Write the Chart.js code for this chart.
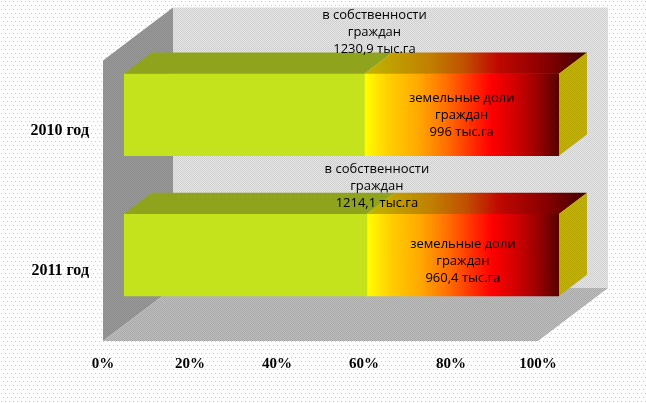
<!DOCTYPE html>
<html>
<head>
<meta charset="utf-8">
<script src="https://cdn.jsdelivr.net/npm/chart.js@4.4.1/dist/chart.umd.min.js"></script>
<style>
html,body{margin:0;padding:0;background:#fff;}
#wrap{width:646px;height:403px;position:relative;}
</style>
</head>
<body>
<div id="wrap"><canvas id="c"></canvas></div>
<script>
// ---- data ----
const categories = ['2010 год', '2011 год'];
const ownedValues = [1230.9, 1214.1];   // в собственности граждан, тыс.га
const shareValues = [996, 960.4];       // земельные доли граждан, тыс.га
const ownedLabelLines = ['в собственности', 'граждан'];
const shareLabelLines = ['земельные доли', 'граждан'];
const unitText = 'тыс.га';
const percentTicks = [0, 20, 40, 60, 80, 100];

// ---- derived (100% stacking) ----
const totals = ownedValues.map((v, i) => v + shareValues[i]);
const ownedPct = ownedValues.map((v, i) => v / totals[i] * 100);
const sharePct = shareValues.map((v, i) => v / totals[i] * 100);

// ---- style ----
const DEPTH = {x: 70, y: -53};
const FRONT = 0.3, BACK = 0.7;
const ownedLift = [41, 28];
const shareDrop = [1, 6];
const LABEL_FONT = '500 13px "Open Sans", "Liberation Sans", sans-serif';
const XTICK_FONT = {family: '"Liberation Serif", "Times New Roman", serif', size: 15, weight: 'bold'};
const YTICK_FONT = {family: '"Liberation Serif", "Times New Roman", serif', size: 16, weight: 'bold'};

function fmt(v) { return String(v).replace('.', ','); }

function makePattern(ctx, w, h, draw) {
  const c = document.createElement('canvas');
  c.width = w; c.height = h;
  draw(c.getContext('2d'));
  return ctx.createPattern(c, 'repeat');
}
function dither(ctx, a, b) {
  return makePattern(ctx, 2, 2, g => {
    g.fillStyle = a; g.fillRect(0, 0, 2, 2);
    g.fillStyle = b; g.fillRect(1, 0, 1, 1); g.fillRect(0, 1, 1, 1);
  });
}

function frontGradient(ctx, x0, x1) {
  const g = ctx.createLinearGradient(x0, 0, x1, 0);
  g.addColorStop(0, '#ffff00');
  g.addColorStop(0.12, '#ffd000');
  g.addColorStop(0.28, '#ffa800');
  g.addColorStop(0.42, '#ff7000');
  g.addColorStop(0.55, '#ff3000');
  g.addColorStop(0.65, '#ff0000');
  g.addColorStop(0.77, '#d40000');
  g.addColorStop(0.88, '#a00000');
  g.addColorStop(1, '#580000');
  return g;
}
function topGradient(ctx, x0, x1) {
  const g = ctx.createLinearGradient(x0, 0, x1, 0);
  g.addColorStop(0, '#c0b800');
  g.addColorStop(0.15, '#c09a00');
  g.addColorStop(0.3, '#c07e00');
  g.addColorStop(0.45, '#c05000');
  g.addColorStop(0.6, '#c00800');
  g.addColorStop(0.8, '#8c0000');
  g.addColorStop(1, '#400000');
  return g;
}

function poly(ctx, pts, fill) {
  ctx.beginPath();
  ctx.moveTo(pts[0][0], pts[0][1]);
  for (let i = 1; i < pts.length; i++) ctx.lineTo(pts[i][0], pts[i][1]);
  ctx.closePath();
  ctx.fillStyle = fill;
  ctx.fill();
}

const scene3d = {
  id: 'scene3d',
  beforeDraw(chart) {
    const {ctx, width, height} = chart;
    ctx.save();
    ctx.fillStyle = '#ffffff';
    ctx.fillRect(0, 0, width, height);
    ctx.fillStyle = makePattern(ctx, 4, 8, g => {
      g.fillStyle = '#c8c8c8';
      g.fillRect(1, 1, 1, 1);
      g.fillRect(3, 5, 1, 1);
    });
    ctx.fillRect(0, 0, width, height);
    ctx.restore();
  },
  beforeDatasetsDraw(chart) {
    const {ctx, chartArea: a} = chart;
    const xs = chart.scales.x;
    const ox = -FRONT * DEPTH.x, oy = -FRONT * DEPTH.y;
    const L = xs.getPixelForValue(0) + ox, R = xs.getPixelForValue(100) + ox;
    const T = a.top + oy, B = a.bottom + oy;
    const dx = DEPTH.x, dy = DEPTH.y;
    ctx.save();
    poly(ctx, [[L + dx, T + dy], [R + dx, T + dy], [R + dx, B + dy], [L + dx, B + dy]], dither(ctx, '#cfcfcf', '#e6e6e6'));
    poly(ctx, [[L, T], [L + dx, T + dy], [L + dx, B + dy], [L, B]], dither(ctx, '#8c8c8c', '#999999'));
    poly(ctx, [[L, B], [R, B], [R + dx, B + dy], [L + dx, B + dy]], dither(ctx, '#a8a8a8', '#bebebe'));
    ctx.restore();
  },
  afterDatasetsDraw(chart) {
    const {ctx} = chart;
    const bx = (BACK - FRONT) * DEPTH.x, by = (BACK - FRONT) * DEPTH.y;
    const m0 = chart.getDatasetMeta(0), m1 = chart.getDatasetMeta(1);
    ctx.save();
    categories.forEach((c, j) => {
      const e0 = m0.data[j], e1 = m1.data[j];
      const top = e0.y - e0.height / 2, bot = e0.y + e0.height / 2;
      poly(ctx, [[e0.base, top], [e0.x, top], [e0.x + bx, top + by], [e0.base + bx, top + by]], '#8fa31c');
      poly(ctx, [[e1.base, top], [e1.x, top], [e1.x + bx, top + by], [e1.base + bx, top + by]], topGradient(ctx, e1.base, e1.x + bx));
      poly(ctx, [[e1.x, top], [e1.x + bx, top + by], [e1.x + bx, bot + by], [e1.x, bot]], dither(ctx, '#b8a600', '#c4b400'));
    });
    ctx.fillStyle = '#000';
    ctx.font = LABEL_FONT;
    ctx.textAlign = 'center';
    ctx.textBaseline = 'middle';
    const LH = 17;
    categories.forEach((c, j) => {
      const e0 = m0.data[j], e1 = m1.data[j];
      const top = e0.y - e0.height / 2;
      const l1 = ownedLabelLines.concat([fmt(ownedValues[j]) + ' ' + unitText]);
      const cx1 = e0.x + 10, cy1 = top - ownedLift[j];
      l1.forEach((t, k) => ctx.fillText(t, cx1, cy1 + (k - 1) * LH));
      const l2 = shareLabelLines.concat([fmt(shareValues[j]) + ' ' + unitText]);
      const cx2 = (e1.base + e1.x) / 2, cy2 = e1.y + shareDrop[j];
      l2.forEach((t, k) => ctx.fillText(t, cx2, cy2 + (k - 1) * LH));
    });
    ctx.restore();
  }
};

const ctx = document.getElementById('c').getContext('2d');
new Chart(ctx, {
  type: 'bar',
  data: {
    labels: categories,
    datasets: [
      {label: 'в собственности граждан', data: ownedPct, backgroundColor: '#c4e31c', borderWidth: 0, barThickness: 82},
      {label: 'земельные доли граждан', data: sharePct, borderWidth: 0, barThickness: 82,
        backgroundColor: (c) => {
          const ch = c.chart;
          if (!ch.chartArea || c.dataIndex === undefined) return '#ff6000';
          const xs = ch.scales.x;
          return frontGradient(ch.ctx, xs.getPixelForValue(ownedPct[c.dataIndex]), xs.getPixelForValue(100));
        }}
    ]
  },
  options: {
    indexAxis: 'y',
    responsive: true,
    maintainAspectRatio: false,
    devicePixelRatio: 1,
    animation: false,
    layout: {padding: {left: 0, right: 87, top: 41, bottom: 0}},
    plugins: {legend: {display: false}, tooltip: {enabled: false}},
    scales: {
      x: {
        stacked: true, min: 0, max: 100,
        grid: {display: false, drawTicks: false},
        border: {display: false},
        afterBuildTicks: s => { s.ticks = percentTicks.map(v => ({value: v})); },
        afterFit: s => { s.height = 78; },
        ticks: {callback: v => v + '%', font: XTICK_FONT, color: '#000', padding: 30, labelOffset: -21, maxRotation: 0, autoSkip: false}
      },
      y: {
        stacked: true,
        grid: {display: false, drawTicks: false},
        border: {display: false},
        afterFit: s => { s.width = 124; },
        ticks: {font: YTICK_FONT, color: '#000', padding: 35, labelOffset: 16, autoSkip: false}
      }
    }
  },
  plugins: [scene3d]
});
</script>
</body>
</html>
